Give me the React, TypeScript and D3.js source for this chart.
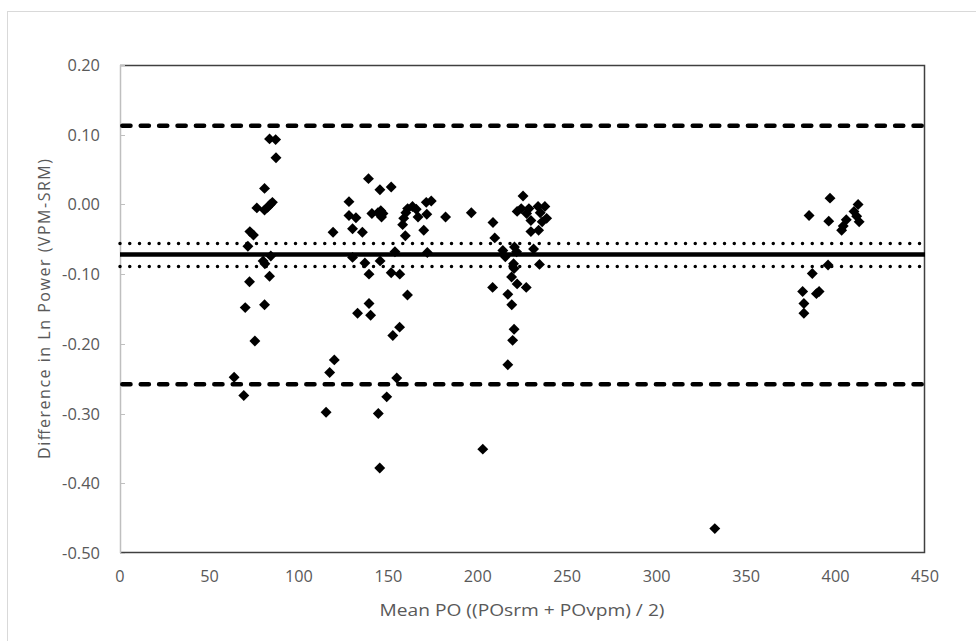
import { useEffect, useRef } from 'react';
import * as d3 from 'd3';

// Bland-Altman: mean power output vs difference in ln power (VPM - SRM)
const meanPO = [
    63.8, 69.2, 70.0, 72.4, 71.5, 72.6, 74.6, 75.4, 76.5, 80.8, 80.8, 80.0, 81.0, 80.8, 83.6, 87.0,
    87.2, 82.5, 84.0, 85.2, 84.3, 83.6,
    115.2, 117.2, 119.8, 119.1, 128.0, 128.0, 131.9, 130.0, 135.5, 130.0, 132.8, 136.9, 138.9, 139.2,
    139.2, 140.1, 140.8, 144.4, 145.2, 145.3, 144.2, 145.8, 146.2, 147.0, 145.4, 149.1, 151.6, 151.6,
    152.5, 153.7, 154.7, 156.3, 156.4, 158.0, 159.5, 160.7, 159.8, 160.8, 158.6, 163.5, 165.6, 166.6,
    169.8, 171.5, 171.2, 174.0, 171.8, 182.0, 196.4, 202.8,
    208.5, 209.5, 208.3, 214.0, 215.4, 216.8, 216.8, 218.9, 219.0, 220.5, 220.3, 220.3, 219.5, 222.0,
    222.0, 224.3, 225.3, 227.1, 227.3, 228.6, 229.7, 229.7, 231.2, 234.5, 234.0, 234.9, 237.5, 238.5,
    236.0, 221.7, 220.0, 233.7,
    332.5,
    381.6, 382.3, 382.3, 385.2, 387.0, 389.3, 390.8, 396.9, 396.2, 395.8, 403.4, 404.3, 406.0, 410.3,
    412.6, 413.2, 411.8
];

const diffLnPower = [
    -0.248, -0.274, -0.148, -0.111, -0.060, -0.039, -0.044, -0.196, -0.005, 0.023, -0.008, -0.081, -0.085, -0.144, 0.094, 0.093,
    0.067, -0.004, 0.000, 0.003, -0.074, -0.103,
    -0.298, -0.241, -0.223, -0.040, 0.004, -0.016, -0.019, -0.035, -0.040, -0.076, -0.156, -0.084, 0.037, -0.100,
    -0.142, -0.159, -0.013, -0.300, -0.378, 0.021, -0.012, -0.009, -0.018, -0.013, -0.081, -0.276, 0.025, -0.098,
    -0.188, -0.068, -0.249, -0.176, -0.100, -0.029, -0.045, -0.130, -0.012, -0.006, -0.020, -0.003, -0.007, -0.018,
    -0.037, -0.014, 0.003, 0.005, -0.069, -0.018, -0.012, -0.351,
    -0.026, -0.048, -0.119, -0.066, -0.075, -0.129, -0.230, -0.104, -0.144, -0.061, -0.092, -0.179, -0.195, -0.114,
    -0.010, -0.006, 0.012, -0.119, -0.013, -0.006, -0.023, -0.039, -0.064, -0.086, -0.037, -0.012, -0.003, -0.020,
    -0.025, -0.068, -0.085, -0.003,
    -0.465,
    -0.125, -0.142, -0.156, -0.016, -0.099, -0.128, -0.125, 0.009, -0.024, -0.087, -0.037, -0.031, -0.022, -0.010,
    0.000, -0.025, -0.017
];

const xTickValues = [0, 50, 100, 150, 200, 250, 300, 350, 400, 450];
const yTickValues = [0.2, 0.1, 0, -0.1, -0.2, -0.3, -0.4, -0.5];

const meanBias = -0.072;
const biasConfidence = [-0.056, -0.089];
const agreementLimits = [0.113, -0.258];

const W = 976;
const H = 641;
const LABEL_FONT = "'Open Sans', sans-serif";

// the original labels use a narrow face; squeeze Open Sans to roughly that width
const labelWidth = s => s.split('').reduce((w, c) => w + (c === '.' ? 4.5 : c === '-' ? 5.5 : 9.3), 0);

const App = () => {
    const svgRef = useRef(null);

    useEffect(() => {
        const svg = d3.select(svgRef.current);
        svg.selectAll('*').remove();

        const plot = { left: 120, top: 65, right: 925, bottom: 553 };

        const x = d3.scaleLinear().domain([0, 450]).range([plot.left, plot.right]);
        const y = d3.scaleLinear().domain([-0.5, 0.2]).range([plot.bottom, plot.top]);

        svg.append('rect')
            .attr('width', W)
            .attr('height', H)
            .attr('fill', '#fff');

        // chart area frame (light grey, runs off the right / bottom edge)
        svg.append('rect')
            .attr('x', 7.5)
            .attr('y', 11.5)
            .attr('width', W + 20)
            .attr('height', H + 20)
            .attr('fill', 'none')
            .attr('stroke', '#d9d9d9');

        // plot area border: top, right, bottom
        svg.append('path')
            .attr('d', `M${plot.left},${plot.top + 0.5}H${plot.right - 0.5}V${plot.bottom - 0.5}H${plot.left}`)
            .attr('fill', 'none')
            .attr('stroke', '#404040')
            .attr('stroke-width', 1.5);

        // y axis line + small inner ticks
        svg.append('line')
            .attr('x1', plot.left + 0.5)
            .attr('x2', plot.left + 0.5)
            .attr('y1', plot.top)
            .attr('y2', plot.bottom)
            .attr('stroke', '#bfbfbf')
            .attr('stroke-width', 1.5);

        svg.selectAll('.ytick')
            .data(yTickValues)
            .enter()
            .append('line')
            .attr('x1', plot.left)
            .attr('x2', plot.left + 5)
            .attr('y1', d => Math.round(y(d)) + 0.5)
            .attr('y2', d => Math.round(y(d)) + 0.5)
            .attr('stroke', '#bfbfbf');

        svg.selectAll('.ylabel')
            .data(yTickValues)
            .enter()
            .append('text')
            .attr('x', 100)
            .attr('y', d => y(d))
            .attr('dy', '0.35em')
            .attr('text-anchor', 'end')
            .attr('fill', '#595959')
            .attr('textLength', d => labelWidth(d.toFixed(2)))
            .attr('lengthAdjust', 'spacingAndGlyphs')
            .style('font-family', LABEL_FONT)
            .style('font-size', '17px')
            .text(d => d.toFixed(2));

        svg.selectAll('.xlabel')
            .data(xTickValues)
            .enter()
            .append('text')
            .attr('x', d => x(d))
            .attr('y', 576)
            .attr('dy', '0.35em')
            .attr('text-anchor', 'middle')
            .attr('fill', '#595959')
            .attr('textLength', d => labelWidth(String(d)))
            .attr('lengthAdjust', 'spacingAndGlyphs')
            .style('font-family', LABEL_FONT)
            .style('font-size', '17px')
            .text(d => d);

        // axis titles
        svg.append('text')
            .attr('transform', `translate(50,${(plot.top + plot.bottom) / 2}) rotate(-90)`)
            .attr('text-anchor', 'middle')
            .attr('fill', '#595959')
            .attr('textLength', 300)
            .attr('lengthAdjust', 'spacing')
            .style('font-family', LABEL_FONT)
            .style('font-size', '16px')
            .text('Difference in Ln Power  (VPM-SRM)');

        svg.append('text')
            .attr('x', 522)
            .attr('y', 616)
            .attr('text-anchor', 'middle')
            .attr('fill', '#595959')
            .attr('textLength', 285)
            .attr('lengthAdjust', 'spacingAndGlyphs')
            .style('font-family', LABEL_FONT)
            .style('font-size', '17px')
            .text('Mean PO ((POsrm + POvpm) / 2)');

        // reference lines
        const refLine = (v, style) => {
            const l = svg.append('line')
                .attr('x1', plot.left)
                .attr('x2', plot.right)
                .attr('y1', y(v))
                .attr('y2', y(v))
                .attr('stroke', '#000');
            if (style === 'dash') {
                l.attr('stroke-width', 4.5)
                    .attr('stroke-dasharray', '8.2 10.2')
                    .attr('stroke-dashoffset', -2.3)
                    .attr('stroke-linecap', 'round');
            } else if (style === 'dot') {
                l.attr('stroke-width', 3.5)
                    .attr('stroke-dasharray', '0 9.75')
                    .attr('stroke-linecap', 'round');
            } else {
                l.attr('stroke-width', 4.5);
            }
        };

        agreementLimits.forEach(v => refLine(v, 'dash'));
        biasConfidence.forEach(v => refLine(v, 'dot'));
        refLine(meanBias, 'solid');

        // data points
        const diamond = d3.symbol().type(d3.symbolDiamond2).size(76);

        svg.selectAll('.pt')
            .data(meanPO.map((m, i) => ({ m, d: diffLnPower[i] })))
            .enter()
            .append('path')
            .attr('transform', p => `translate(${x(p.m)},${y(p.d)})`)
            .attr('d', diamond)
            .attr('fill', '#000');
    }, []);

    return (
        <div style={{ position: 'absolute', left: 0, top: 0 }}>
            <svg ref={svgRef} width={W} height={H} style={{ display: 'block' }} />
        </div>
    );
};

export default App;
